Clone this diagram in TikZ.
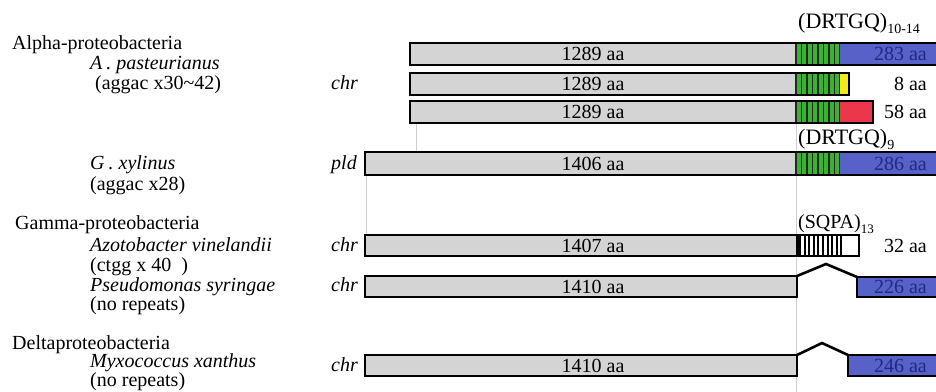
\documentclass[tikz,border=0pt]{standalone}
\usepackage{fontspec}
\setmainfont{Liberation Serif}
\definecolor{barg}{RGB}{212,212,212}
\definecolor{barblue}{RGB}{86,98,200}
\definecolor{bluetxt}{RGB}{35,40,130}
\definecolor{repgreen}{RGB}{60,178,50}
\definecolor{repyellow}{RGB}{245,230,30}
\definecolor{repred}{RGB}{235,55,75}
\definecolor{guide}{RGB}{205,205,205}
\newcommand\subtxt[2]{\raisebox{-0.27em}{\fontsize{#1}{#1}\selectfont #2}}
\newcommand\greenrep[2]{%
  \fill[repgreen] (796,#1) rectangle (840,#2);
  \foreach \k in {0,...,8} \draw[line width=1.1pt, black!85] ({796+\k*5.5},#1) -- ({796+\k*5.5},#2);}
\begin{document}
\begin{tikzpicture}[x=1pt,y=-1pt,
  bar/.style={draw=black, line width=2.1pt, line join=miter},
  guideline/.style={draw=guide, line width=0.8pt},
  txt/.style={font=\fontsize{20}{20}\selectfont, inner sep=0pt},
  lab/.style={txt, anchor=base west},
  itl/.style={lab, font=\fontsize{20}{20}\selectfont\itshape},
  num/.style={txt, anchor=center},
  rnum/.style={txt, anchor=east},
  rep/.style={anchor=base west, inner sep=0pt, font=\fontsize{22}{22}\selectfont}]
\useasboundingbox (0,0) rectangle (936,391);
\clip (0,0) rectangle (936,391);
% guide lines
\draw[guideline] (416,123) -- (416,152);
\draw[guideline] (366,175) -- (366,235);
\draw[guideline] (796,123) -- (796,395);
% ---- Alpha row 1
\fill[barg] (410,43) rectangle (796,65);
\greenrep{43}{65}
\fill[barblue] (840,43) rectangle (945,65);
\draw[bar] (410,43) rectangle (945,65);
% ---- Alpha row 2
\fill[barg] (410,73) rectangle (796,95);
\greenrep{73}{95}
\fill[repyellow] (840,73) rectangle (849,95);
\draw[bar] (410,73) rectangle (849,95);
% ---- Alpha row 3
\fill[barg] (410,101) rectangle (796,123);
\greenrep{101}{123}
\fill[repred] (840,101) rectangle (873,123);
\draw[bar] (410,101) rectangle (873,123);
% ---- G. xylinus
\fill[barg] (365,152) rectangle (796,175);
\greenrep{152}{175}
\fill[barblue] (840,152) rectangle (945,175);
\draw[bar] (365,152) rectangle (945,175);
% ---- Azotobacter
\fill[barg] (365,235) rectangle (796,256);
\fill[white] (796,235) rectangle (859,256);
\fill[black] (796,235) rectangle (801,256);
\foreach \k in {1,...,9} \draw[line width=2pt] ({800+\k*4.6},235) -- ({800+\k*4.6},256);
\draw[bar] (365,235) rectangle (859,256);
% ---- Pseudomonas
\coordinate (pa) at (797,276);
\coordinate (pp) at (826,264);
\coordinate (pb) at (857,277);
\fill[barg] (365,276) rectangle (797,297);
\draw[bar] (pa) -- (365,276) -- (365,297) -- (797,297) -- cycle;
\draw[bar, line width=2.6pt] (pa) -- (pp) -- (pb);
\filldraw[bar, fill=barblue] (857,277) rectangle (945,297);
% ---- Myxococcus
\coordinate (ma) at (797,355);
\coordinate (mp) at (822,343);
\coordinate (mb) at (848,355);
\fill[barg] (365,355) rectangle (797,376);
\draw[bar] (ma) -- (365,355) -- (365,376) -- (797,376) -- cycle;
\draw[bar, line width=2.6pt] (ma) -- (mp) -- (mb);
\filldraw[bar, fill=barblue] (848,355) rectangle (945,376);
% ---- numbers in bars
\node[num] (n1) at (593,54) {1289 aa};
\node[num] (n2) at (593,84) {1289 aa};
\node[num] (n3) at (593,112) {1289 aa};
\node[num] (n4) at (593,164) {1406 aa};
\node[num] (n5) at (593,246) {1407 aa};
\node[num] (n6) at (593,287) {1410 aa};
\node[num] (n7) at (593,366) {1410 aa};
\node[rnum, text=bluetxt] (c1) at (927,54) {283 aa};
\node[rnum] (c2) at (927,84) {8 aa};
\node[rnum] (c3) at (927,112) {58 aa};
\node[rnum, text=bluetxt] (c4) at (927,164) {286 aa};
\node[rnum] (c5) at (927,246) {32 aa};
\node[rnum, text=bluetxt] (c6) at (927,287) {226 aa};
\node[rnum, text=bluetxt] (c7) at (927,366) {246 aa};
% ---- repeat labels
\node[rep] (r1) at (798,28) {(DRTGQ)\subtxt{14}{10-14}};
\node[rep] (r2) at (798,144) {(DRTGQ)\subtxt{14}{9}};
\node[rep, font=\fontsize{20}{20}\selectfont] (r3) at (798,228) {(SQPA)\subtxt{13}{13}};
% ---- left labels
\node[lab] (alpha) at (12,49) {Alpha-proteobacteria};
\node[itl] (apast) at (90,69) {A\kern4pt. pasteurianus};
\node[lab] (apr) at (95,89) {(aggac x30\textasciitilde 42)};
\node[itl] (g1) at (331,89) {chr};
\node[itl] (gx) at (90,169) {G\kern4pt. xylinus};
\node[lab] (gxr) at (90,190) {(aggac x28)};
\node[itl] (g2) at (331,169) {pld};
\node[lab] (gamma) at (15,229) {Gamma-proteobacteria};
\node[itl] (az) at (90,251) {Azotobacter vinelandii};
\node[lab] (azr) at (90,271) {(ctgg x 40\ \ )};
\node[itl] (g3) at (331,251) {chr};
\node[itl] (ps) at (90,291) {Pseudomonas syringae};
\node[lab] (psr) at (90,310) {(no repeats)};
\node[itl] (g4) at (331,291) {chr};
\node[lab] (delta) at (12,349) {Deltaproteobacteria};
\node[itl] (mx) at (90,367) {Myxococcus xanthus};
\node[lab] (mxr) at (90,386) {(no repeats)};
\node[itl] (g5) at (331,371) {chr};
\end{tikzpicture}
\end{document}
